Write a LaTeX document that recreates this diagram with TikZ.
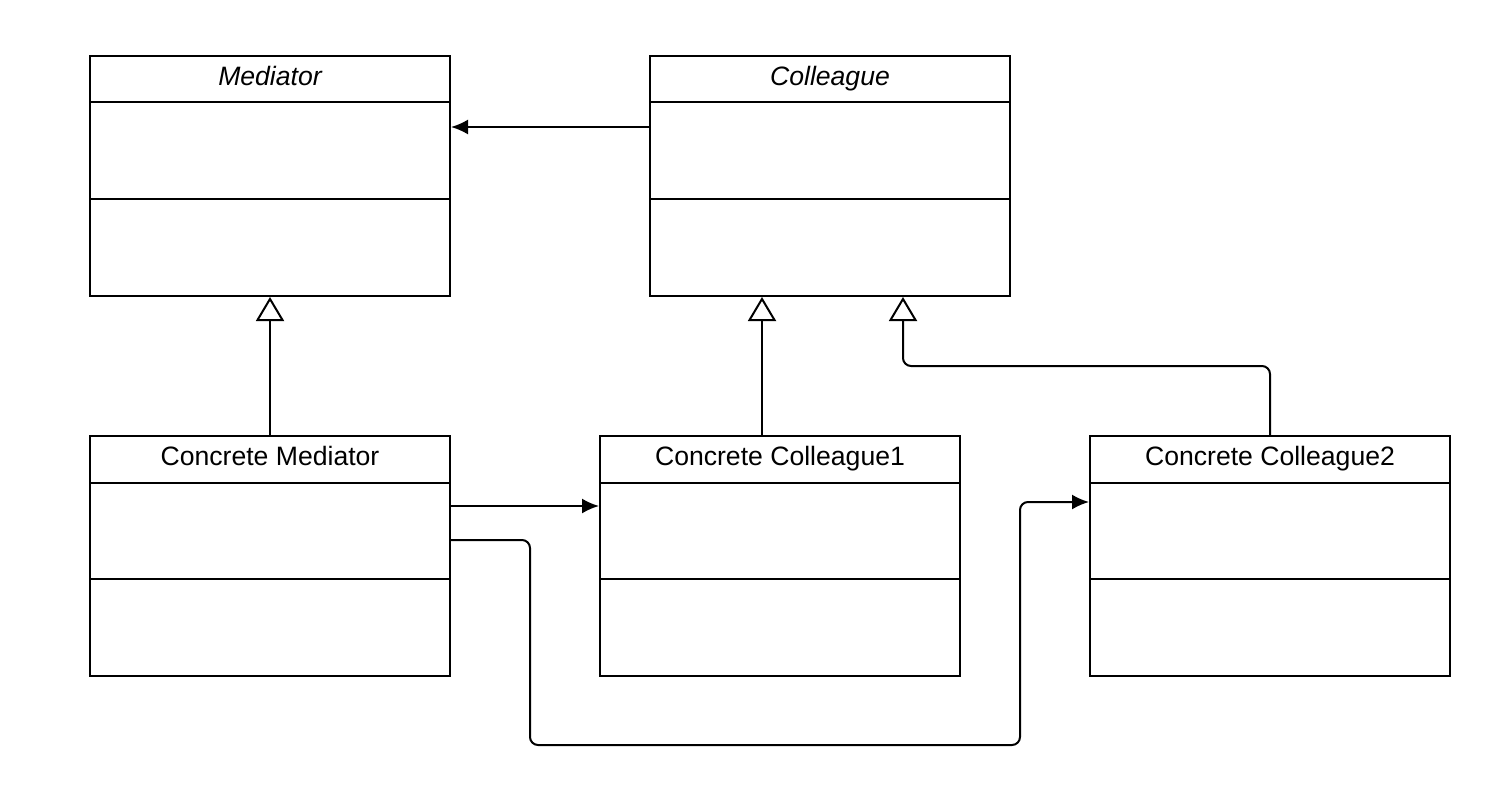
\documentclass[tikz,border=0pt]{standalone}
\usepackage{fontspec}
\setmainfont{Liberation Sans}
\usetikzlibrary{arrows.meta,calc}
\tikzset{
  classbox/.style={draw, line width=1pt, minimum width=180pt, minimum height=120pt, inner sep=0pt, fill=white},
  title/.style={font=\fontsize{13.3pt}{15pt}\selectfont, inner sep=0pt, anchor=base},
  conn/.style={line width=1pt, rounded corners=4pt},
  assoc/.style={conn, -{Latex[length=8.5pt,width=7.5pt]}},
  inherit/.style={conn, -{Triangle[open,length=12pt,width=14pt,fill=white]}},
}
\newcommand\umlclass[5]{%
  \node[classbox] (#1) at (#2,#3) {};
  \draw[line width=1pt] ($(#1.north west)+(0,#4)$) -- ($(#1.north east)+(0,#4)$);
  \draw[line width=1pt] ($(#1.north west)+(0,144)$) -- ($(#1.north east)+(0,144)$);
  \node[title] (#1t) at ($(#1.north)+(0,30)$) {#5};
}
\begin{document}
\begin{tikzpicture}[x=0.5pt,y=-0.5pt]
\useasboundingbox[fill=white] (0,0) rectangle (1510,793);
\umlclass{med}{270}{176}{47}{\itshape Mediator}
\umlclass{col}{830}{176}{47}{\itshape Colleague}
\umlclass{cmed}{270}{556}{48}{Concrete Mediator}
\umlclass{cc1}{780}{556}{48}{Concrete Colleague1}
\umlclass{cc2}{1270}{556}{48}{Concrete Colleague2}
\draw[assoc] (col.west |- 0,127) -- (med.east |- 0,127);
\draw[inherit] (cmed.north) -- (med.south);
\draw[inherit] (cc1.north -| 762,0) -- (col.south -| 762,0);
\draw[inherit] (cc2.north) -- (1270,366) -- (903,366) -- (col.south -| 903,0);
\draw[assoc] (cmed.east |- 0,506) -- (cc1.west |- 0,506);
\draw[assoc] (cmed.east |- 0,540) -- (530,540) -- (530,745) -- (1020,745) -- (1020,502) -- (cc2.west |- 0,502);
\end{tikzpicture}
\end{document}
